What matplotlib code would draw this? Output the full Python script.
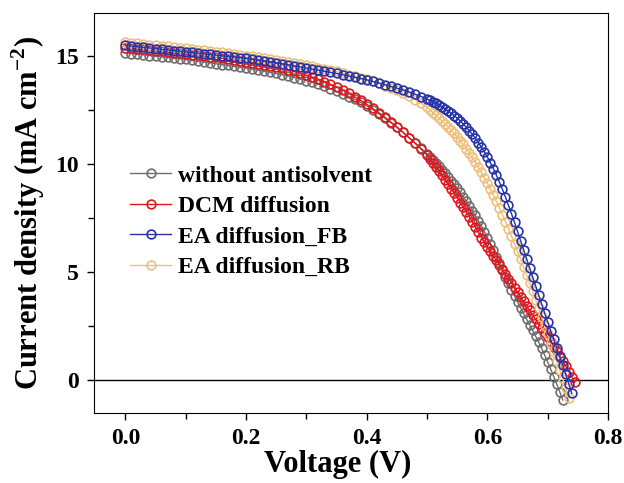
import numpy as np
import matplotlib
matplotlib.use('Agg')
import matplotlib.pyplot as plt

plt.rcParams['font.family'] = 'Liberation Serif'
plt.rcParams['font.weight'] = 'bold'
plt.rcParams['mathtext.fontset'] = 'custom'
plt.rcParams['mathtext.rm'] = 'Liberation Serif:bold'
plt.rcParams['mathtext.bf'] = 'Liberation Serif:bold'

# voltage sweep (V)
volt = [0.00, 0.01, 0.02, 0.03, 0.04, 0.05, 0.06, 0.07, 0.08, 0.09,
        0.10, 0.11, 0.12, 0.13, 0.14, 0.15, 0.16, 0.17, 0.18, 0.19,
        0.20, 0.21, 0.22, 0.23, 0.24, 0.25, 0.26, 0.27, 0.28, 0.29,
        0.30, 0.31, 0.32, 0.33, 0.34, 0.35, 0.36, 0.37, 0.38, 0.39,
        0.40, 0.41, 0.42, 0.43, 0.44, 0.45, 0.46, 0.47, 0.48, 0.49,
        0.50, 0.505, 0.51, 0.515, 0.52, 0.525, 0.53, 0.535, 0.54, 0.545,
        0.55, 0.555, 0.56, 0.565, 0.57, 0.575, 0.58, 0.585, 0.59, 0.595,
        0.60, 0.605, 0.61, 0.615, 0.62, 0.625, 0.63, 0.635, 0.64, 0.645,
        0.65, 0.655, 0.66, 0.665, 0.67, 0.675, 0.68, 0.685, 0.69, 0.695,
        0.70, 0.705, 0.71, 0.715, 0.72, 0.725, 0.73, 0.735, 0.74, 0.745]

# current density (mA cm-2)
j_without = [15.15, 15.12, 15.09, 15.06, 15.03, 15.00, 14.97, 14.94, 14.91, 14.88,
             14.85, 14.81, 14.77, 14.73, 14.69, 14.65, 14.61, 14.57, 14.53, 14.49,
             14.45, 14.40, 14.35, 14.30, 14.25, 14.20, 14.14, 14.08, 14.01, 13.94,
             13.87, 13.79, 13.70, 13.60, 13.49, 13.37, 13.25, 13.13, 13.00, 12.86,
             12.70, 12.52, 12.33, 12.13, 11.92, 11.70, 11.47, 11.23, 10.99, 10.74,
             10.48, 10.34, 10.20, 10.05, 9.90, 9.74, 9.58, 9.41, 9.24, 9.06,
             8.88, 8.69, 8.49, 8.28, 8.07, 7.85, 7.62, 7.38, 7.13, 6.87,
             6.60, 6.31, 6.01, 5.71, 5.40, 5.09, 4.79, 4.49, 4.19, 3.90,
             3.62, 3.35, 3.08, 2.82, 2.56, 2.30, 2.03, 1.75, 1.46, 1.15,
             0.83, 0.50, 0.16, -0.19, -0.55, -0.93]
j_dcm = [15.40, 15.37, 15.34, 15.31, 15.28, 15.25, 15.22, 15.19, 15.16, 15.13,
         15.10, 15.07, 15.04, 15.01, 14.98, 14.95, 14.91, 14.87, 14.83, 14.79,
         14.75, 14.70, 14.65, 14.60, 14.55, 14.49, 14.43, 14.36, 14.29, 14.21,
         14.12, 14.03, 13.93, 13.82, 13.70, 13.57, 13.43, 13.28, 13.12, 12.95,
         12.77, 12.58, 12.38, 12.17, 11.95, 11.72, 11.48, 11.23, 10.97, 10.70,
         10.42, 10.24, 10.06, 9.87, 9.68, 9.48, 9.28, 9.07, 8.86, 8.65,
         8.44, 8.22, 8.00, 7.78, 7.55, 7.32, 7.08, 6.84, 6.60, 6.38,
         6.17, 5.96, 5.75, 5.54, 5.33, 5.12, 4.91, 4.70, 4.49, 4.28,
         4.07, 3.86, 3.65, 3.44, 3.23, 3.02, 2.81, 2.60, 2.39, 2.18,
         1.97, 1.76, 1.55, 1.33, 1.10, 0.87, 0.63, 0.39, 0.14, -0.10]
j_ea_fb = [15.50, 15.47, 15.44, 15.41, 15.38, 15.35, 15.32, 15.29, 15.26, 15.23,
           15.20, 15.17, 15.14, 15.11, 15.08, 15.05, 15.02, 14.99, 14.96, 14.93,
           14.90, 14.86, 14.82, 14.78, 14.74, 14.70, 14.65, 14.60, 14.55, 14.50,
           14.45, 14.40, 14.35, 14.30, 14.25, 14.20, 14.14, 14.08, 14.02, 13.96,
           13.90, 13.83, 13.76, 13.68, 13.60, 13.52, 13.43, 13.34, 13.24, 13.13,
           13.01, 12.95, 12.88, 12.81, 12.73, 12.65, 12.56, 12.46, 12.36, 12.25,
           12.13, 12.00, 11.86, 11.71, 11.55, 11.38, 11.20, 11.00, 10.79, 10.57,
           10.33, 10.07, 9.79, 9.49, 9.17, 8.83, 8.47, 8.09, 7.70, 7.30,
           6.88, 6.46, 6.04, 5.62, 5.20, 4.78, 4.36, 3.94, 3.52, 3.10,
           2.68, 2.28, 1.88, 1.48, 1.08, 0.68, 0.26, -0.18, -0.62]
j_ea_rb = [15.65, 15.62, 15.59, 15.57, 15.54, 15.51, 15.48, 15.45, 15.42, 15.39,
           15.36, 15.33, 15.30, 15.27, 15.24, 15.21, 15.18, 15.15, 15.11, 15.07,
           15.03, 14.99, 14.95, 14.91, 14.87, 14.83, 14.78, 14.73, 14.68, 14.63,
           14.58, 14.53, 14.47, 14.41, 14.35, 14.29, 14.22, 14.15, 14.08, 14.00,
           13.92, 13.83, 13.74, 13.64, 13.53, 13.41, 13.28, 13.14, 12.99, 12.83,
           12.66, 12.50, 12.38, 12.26, 12.13, 12.00, 11.86, 11.72, 11.57, 11.42,
           11.26, 11.09, 10.91, 10.72, 10.52, 10.31, 10.09, 9.86, 9.62, 9.37,
           9.11, 8.84, 8.56, 8.27, 7.97, 7.66, 7.34, 7.01, 6.67, 6.32,
           5.96, 5.60, 5.23, 4.86, 4.48, 4.10, 3.71, 3.32, 2.92, 2.52,
           2.12, 1.71, 1.30, 0.88, 0.46, 0.04, -0.38, -0.85]

labels = ['without antisolvent', 'DCM diffusion', 'EA diffusion_FB', 'EA diffusion_RB']
colors = ['#6e6e6e', '#e3161e', '#2634a8', '#eec07c']
series = [j_without, j_dcm, j_ea_fb, j_ea_rb]
zorders = [2, 3, 5, 4]

fig = plt.figure(figsize=(6.24, 4.83), dpi=100)
ax = fig.add_axes([0.1506, 0.1449, 0.8238, 0.8282])

handles = []
for j, c, lab, z in zip(series, colors, labels, zorders):
    h, = ax.plot(volt[:len(j)], j, 'o-', color=c, mfc='none', mec=c,
                 ms=6.3, mew=1.2, lw=1.0, label=lab, zorder=z)
    handles.append(h)

ax.axhline(0, color='black', lw=1.0, zorder=1)

ax.set_xlim(-0.052, 0.8)
ax.set_ylim(-1.53, 17.0)
ax.set_xticks([0.0, 0.2, 0.4, 0.6, 0.8])
ax.set_xticks([0.1, 0.3, 0.5, 0.7], minor=True)
ax.set_yticks([0, 5, 10, 15])
ax.set_yticks([2.5, 7.5, 12.5], minor=True)
ax.set_xticklabels(['0.0', '0.2', '0.4', '0.6', '0.8'])
ax.tick_params(which='both', direction='out', labelsize=17, width=1.0)
ax.tick_params(which='major', length=5, pad=6)
ax.tick_params(which='minor', length=4)

ax.set_xlabel('Voltage (V)', fontsize=22, fontweight='bold')
ax.xaxis.set_label_coords(0.475, -0.092)
ax.set_ylabel('Current density (mA cm$^{-2}$)', fontsize=22, fontweight='bold', labelpad=6)

leg = ax.legend(handles=handles, loc='upper left', bbox_to_anchor=(0.07, 0.62),
                frameon=False, fontsize=17, handlelength=1.75, handletextpad=0.3,
                labelspacing=0.38, borderpad=0, borderaxespad=0)
for t in leg.get_texts():
    t.set_fontweight('bold')

fig.savefig('out.png', dpi=100)
